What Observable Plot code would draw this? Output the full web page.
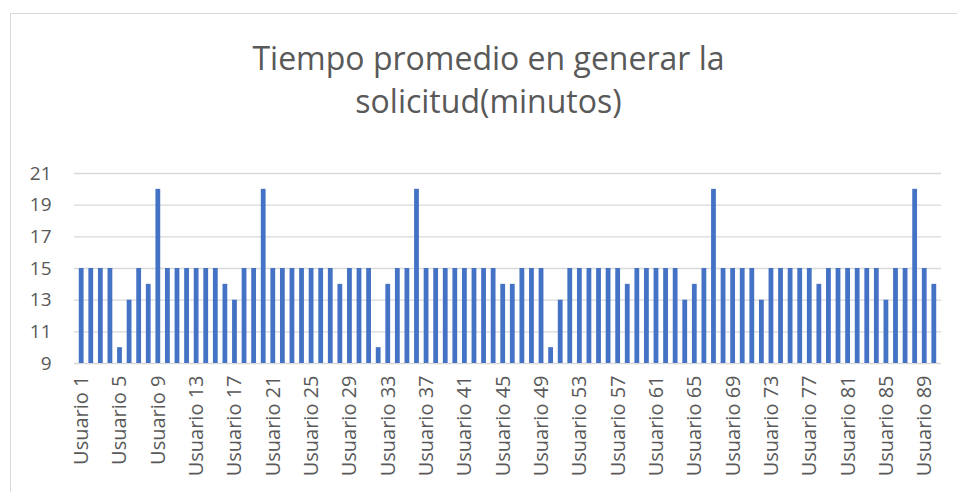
<!DOCTYPE html>
<html>
<head>
<meta charset="utf-8">
<script src="https://cdn.jsdelivr.net/npm/d3@7"></script>
<script src="https://cdn.jsdelivr.net/npm/@observablehq/plot@0.6"></script>
<style>
  html, body { margin: 0; padding: 0; background: #fff; overflow: hidden; }
  #page { position: relative; width: 957px; height: 492px; font-family: "Open Sans", sans-serif; }
  #frame { position: absolute; left: 10px; top: 13px; width: 1000px; height: 600px; border: 1px solid #d9d9d9; box-sizing: border-box; }
  #title { position: absolute; left: 0; top: 36px; width: 977px; text-align: center; font-size: 32px; line-height: 43px; color: #595959; }
  #chart { position: absolute; left: 0; top: 150px; }
  #chart svg { font-family: "Open Sans", sans-serif; overflow: visible; }
</style>
</head>
<body>
<div id="page">
  <div id="frame"></div>
  <div id="title">Tiempo promedio en generar la<br>solicitud(minutos)</div>
  <div id="chart"></div>
</div>
<script>
// Average time (minutes) per user, Usuario 1 .. Usuario 90
const values = [
  15,15,15,15,10,13,15,14,20,15,
  15,15,15,15,15,14,13,15,15,20,
  15,15,15,15,15,15,15,14,15,15,
  15,10,14,15,15,20,15,15,15,15,
  15,15,15,15,14,14,15,15,15,10,
  13,15,15,15,15,15,15,14,15,15,
  15,15,15,13,14,15,20,15,15,15,
  15,13,15,15,15,15,15,14,15,15,
  15,15,15,15,13,15,15,20,15,14
];
const users = values.map((_, i) => "Usuario " + (i + 1));
const xTickLabels = [
  "Usuario 1","Usuario 5","Usuario 9","Usuario 13","Usuario 17","Usuario 21",
  "Usuario 25","Usuario 29","Usuario 33","Usuario 37","Usuario 41","Usuario 45",
  "Usuario 49","Usuario 53","Usuario 57","Usuario 61","Usuario 65","Usuario 69",
  "Usuario 73","Usuario 77","Usuario 81","Usuario 85","Usuario 89"
];
const yTicks = [9, 11, 13, 15, 17, 19, 21];

const data = users.map((u, i) => ({user: u, value: values[i]}));

const chart = Plot.plot({
  width: 957,
  height: 342,
  marginLeft: 74,
  marginRight: 16,
  marginTop: 23,
  marginBottom: 129,
  style: {color: "#595959", background: "transparent"},
  x: {domain: users, padding: 0.5, axis: null},
  y: {domain: [9, 21], axis: null},
  marks: [
    Plot.gridY(yTicks, {stroke: "#d9d9d9", strokeOpacity: 1, strokeWidth: 1.3}),
    Plot.barY(data, {x: "user", y1: 9, y2: "value", fill: "#4472C4"}),
    Plot.axisY({ticks: yTicks, tickSize: 0, tickPadding: 23, fontSize: 19, fill: "#595959", label: null}),
    Plot.axisX({ticks: xTickLabels, tickSize: 0, tickPadding: 12, tickRotate: -90, fontSize: 20, fill: "#595959", label: null})
  ]
});
document.getElementById("chart").appendChild(chart);
</script>
</body>
</html>
